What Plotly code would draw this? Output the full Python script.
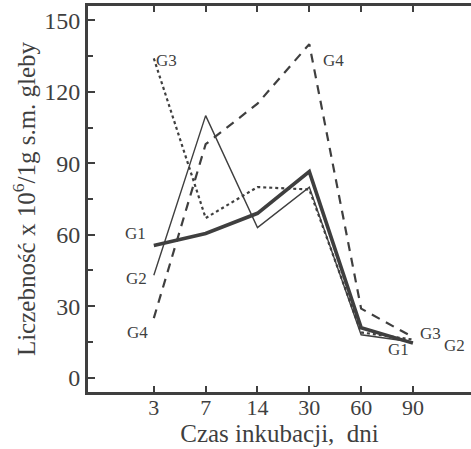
import plotly.graph_objects as go

days = ["3", "7", "14", "30", "60", "90"]
g1 = [55.5, 60.5, 69, 86.5, 21, 14.5]
g2 = [43, 110, 63, 80, 18, 15]
g3 = [134, 67, 80, 79, 19, 16]
g4 = [25, 98, 115, 140, 29, 17]

yticks = [0, 30, 60, 90, 120, 150]

ink = "#3f3f3f"
font_family = "Liberation Serif, Times New Roman, serif"

fig = go.Figure()
fig.add_trace(go.Scatter(x=days, y=g4, mode="lines", name="G4",
                         line=dict(color=ink, width=2.2, dash="9px,7px")))
fig.add_trace(go.Scatter(x=days, y=g3, mode="lines", name="G3",
                         line=dict(color=ink, width=2.2, dash="dot")))
fig.add_trace(go.Scatter(x=days, y=g2, mode="lines", name="G2",
                         line=dict(color=ink, width=1.4)))
fig.add_trace(go.Scatter(x=days, y=g1, mode="lines", name="G1",
                         line=dict(color=ink, width=3.6)))

lab_font = dict(family=font_family, size=17, color=ink)
labels = [
    ("G1", 0, g1[0], -18, 12),
    ("G2", 0, g2[0], -17, -3),
    ("G4", 0, g4[0], -16, -14),
    ("G3", 0, g3[0], 13, -2),
    ("G4", 3, g4[3], 24, -16),
    ("G3", 5, g3[5], 18, 6),
    ("G2", 5, g2[5], 42, -4),
    ("G1", 5, g1[5], -14, -6),
]
for txt, xi, y, dx, dy in labels:
    fig.add_annotation(x=xi, y=y, text=txt, showarrow=False, xshift=dx, yshift=dy,
                       font=lab_font)

fig.update_layout(
    width=471, height=449,
    margin=dict(l=88, r=0, t=6, b=57),
    paper_bgcolor="white", plot_bgcolor="white",
    showlegend=False,
    font=dict(family=font_family, color=ink),
)
fig.update_xaxes(
    type="category", categoryorder="array", categoryarray=days,
    range=[-1.27, 6.12],
    showgrid=False, zeroline=False,
    showline=True, linecolor=ink, linewidth=3, mirror="allticks",
    ticks="inside", ticklen=6, tickwidth=2, tickcolor=ink,
    ticklabelstandoff=-6,
    tickfont=dict(size=22, family=font_family, color=ink),
    title=dict(text="Czas inkubacji,  dni", font=dict(size=25, family=font_family, color=ink), standoff=2),
)
fig.update_yaxes(
    range=[-6, 156],
    tickvals=yticks, ticktext=[str(v) for v in yticks],
    showgrid=False, zeroline=False,
    showline=True, linecolor=ink, linewidth=3,
    ticks="inside", ticklen=7, tickwidth=2, tickcolor=ink,
    minor=dict(dtick=15, tick0=0, ticks="inside", ticklen=5, tickwidth=1.5, tickcolor=ink),
    tickfont=dict(size=24, family=font_family, color=ink),
    title=dict(text="Liczebność x 10<sup>6</sup>/1g s.m. gleby",
               font=dict(size=25, family=font_family, color=ink), standoff=2),
)

fig.write_html("out.html", config={"displayModeBar": False},
               post_script="document.body.style.margin='0';")
